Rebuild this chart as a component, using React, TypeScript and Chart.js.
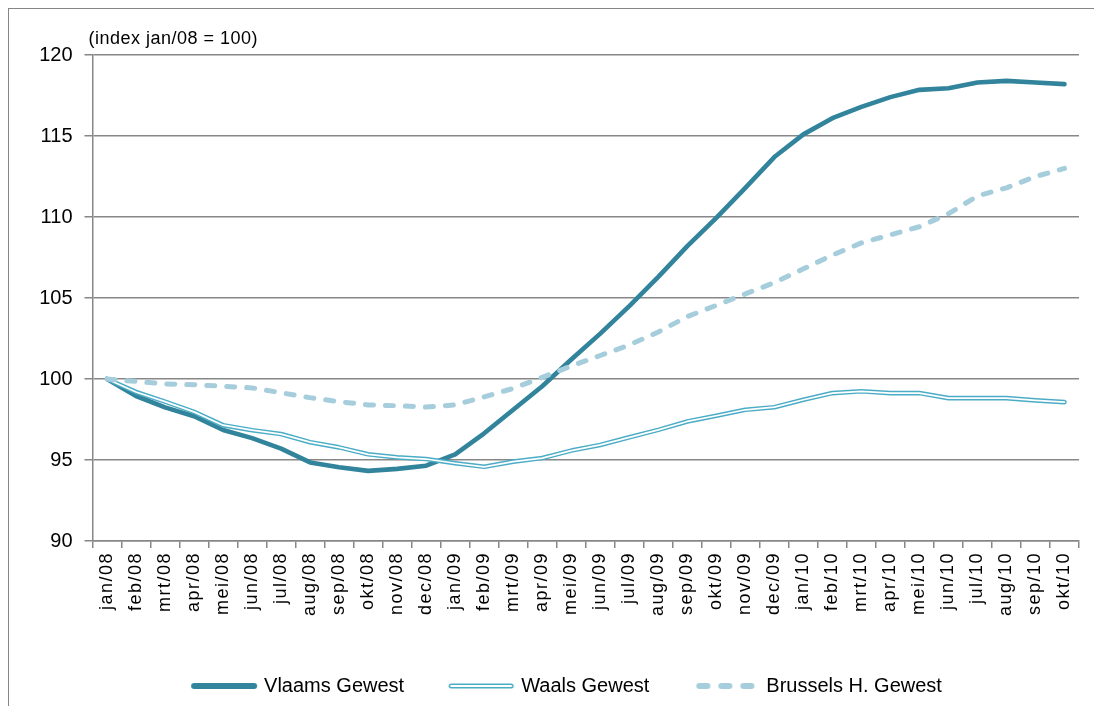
import { useEffect, useRef } from 'react';
import { Chart, registerables } from 'chart.js';

Chart.register(...registerables);

const monthLabels = [
  'jan/08', 'feb/08', 'mrt/08', 'apr/08', 'mei/08', 'jun/08', 'jul/08', 'aug/08', 'sep/08', 'okt/08', 'nov/08', 'dec/08',
  'jan/09', 'feb/09', 'mrt/09', 'apr/09', 'mei/09', 'jun/09', 'jul/09', 'aug/09', 'sep/09', 'okt/09', 'nov/09', 'dec/09',
  'jan/10', 'feb/10', 'mrt/10', 'apr/10', 'mei/10', 'jun/10', 'jul/10', 'aug/10', 'sep/10', 'okt/10',
];

const vlaamsValues = [
  100, 98.95, 98.25, 97.7, 96.85, 96.35, 95.7, 94.85, 94.55, 94.33, 94.45, 94.65,
  95.35, 96.65, 98.1, 99.55, 101.2, 102.8, 104.5, 106.3, 108.2, 109.95, 111.8, 113.7,
  115.1, 116.1, 116.8, 117.4, 117.85, 117.95, 118.3, 118.4, 118.3, 118.2,
];

const waalsValues = [
  100, 99.2, 98.6, 97.97, 97.15, 96.84, 96.6, 96.1, 95.78, 95.35, 95.16, 95.06,
  94.8, 94.58, 94.9, 95.12, 95.58, 95.93, 96.4, 96.86, 97.38, 97.73, 98.1, 98.26,
  98.72, 99.13, 99.24, 99.13, 99.13, 98.82, 98.82, 98.82, 98.68, 98.57,
];

const brusselsValues = [
  100, 99.85, 99.7, 99.65, 99.55, 99.45, 99.15, 98.85, 98.6, 98.4, 98.35, 98.27,
  98.4, 98.9, 99.42, 100.1, 100.8, 101.45, 102.1, 102.9, 103.85, 104.55, 105.25, 105.95,
  106.8, 107.65, 108.4, 108.9, 109.4, 110.2, 111.3, 111.8, 112.5, 113.0,
];

const seriesNames = ['Vlaams Gewest', 'Waals Gewest', 'Brussels H. Gewest'];
const yTicks = [90, 95, 100, 105, 110, 115, 120];
const unitNote = '(index jan/08 = 100)';

const VLAAMS = '#31849B';
const WAALS = '#4BACC6';
const BRUSSELS = '#A5CDDB';
const AXIS = '#878787';
const FONT = '"Liberation Sans", Arial, sans-serif';

function legendSwatch(kind: 'solid' | 'double' | 'dash'): HTMLCanvasElement {
  const c = document.createElement('canvas');
  c.width = 68;
  c.height = 10;
  const g = c.getContext('2d')!;
  g.lineCap = 'round';
  if (kind === 'solid') {
    g.strokeStyle = VLAAMS;
    g.lineWidth = 6;
    g.beginPath();
    g.moveTo(4, 5);
    g.lineTo(64, 5);
    g.stroke();
  } else if (kind === 'double') {
    g.strokeStyle = WAALS;
    g.lineWidth = 5;
    g.beginPath();
    g.moveTo(4, 5);
    g.lineTo(64, 5);
    g.stroke();
    g.strokeStyle = '#ffffff';
    g.lineWidth = 2;
    g.beginPath();
    g.moveTo(4, 5);
    g.lineTo(64, 5);
    g.stroke();
  } else {
    g.strokeStyle = BRUSSELS;
    g.lineWidth = 6;
    for (const s of [7, 29, 51]) {
      g.beginPath();
      g.moveTo(s, 5);
      g.lineTo(s + 8, 5);
      g.stroke();
    }
  }
  return c;
}

const notePlugin = {
  id: 'unitNote',
  afterDraw(chart: any) {
    const ctx = chart.ctx;
    ctx.save();
    ctx.font = `18px ${FONT}`;
    (ctx as any).letterSpacing = '0.5px';
    ctx.fillStyle = '#000';
    ctx.textAlign = 'left';
    ctx.textBaseline = 'middle';
    ctx.fillText(unitNote, chart.chartArea.left - 4, chart.chartArea.top - 16);
    ctx.restore();
  },
};

const spacingPlugin = {
  id: 'xLabelSpacing',
  beforeDraw(chart: any) {
    const s = chart.scales.x;
    if (s && !s.__spaced) {
      const orig = s.drawLabels.bind(s);
      s.drawLabels = (ca: any) => {
        const ctx = chart.ctx;
        ctx.save();
        (ctx as any).letterSpacing = '1.5px';
        orig(ca);
        ctx.restore();
      };
      s.__spaced = true;
    }
    const y = chart.scales.y;
    if (y) {
      y._computeLabelArea = () => undefined;
    }
  },
};

export default function App() {
  const ref = useRef<HTMLCanvasElement>(null);

  useEffect(() => {
    if (!ref.current) return;
    Chart.defaults.font.family = FONT;
    const swatches = [legendSwatch('solid'), legendSwatch('double'), legendSwatch('dash')];

    const chart = new Chart(ref.current, {
      type: 'line',
      data: {
        labels: monthLabels,
        datasets: [
          {
            label: seriesNames[2],
            data: brusselsValues,
            borderColor: BRUSSELS,
            borderWidth: 5,
            borderDash: [8, 12],
            borderCapStyle: 'round',
            borderJoinStyle: 'round',
            pointRadius: 0,
            tension: 0,
            fill: false,
          },
          {
            label: seriesNames[1] + ' (inner)',
            data: waalsValues,
            borderColor: '#ffffff',
            borderWidth: 1.7,
            borderJoinStyle: 'round',
            borderCapStyle: 'round',
            pointRadius: 0,
            tension: 0,
            fill: false,
          },
          {
            label: seriesNames[1],
            data: waalsValues,
            borderColor: WAALS,
            borderWidth: 4.6,
            borderJoinStyle: 'round',
            borderCapStyle: 'round',
            pointRadius: 0,
            tension: 0,
            fill: false,
          },
          {
            label: seriesNames[0],
            data: vlaamsValues,
            borderColor: VLAAMS,
            borderWidth: 4.6,
            borderJoinStyle: 'round',
            borderCapStyle: 'round',
            pointRadius: 0,
            tension: 0,
            fill: false,
          },
        ],
      },
      options: {
        animation: false,
        responsive: true,
        maintainAspectRatio: false,
        layout: { padding: { left: 48, right: 15, top: 46, bottom: 0 } },
        plugins: {
          tooltip: { enabled: false },
          title: { display: false },
          legend: {
            position: 'bottom',
            labels: {
              usePointStyle: true,
              pointStyleWidth: 60,
              boxHeight: 10,
              padding: 47,
              color: '#000',
              font: { size: 20, family: FONT },
              generateLabels: () =>
                seriesNames.map((name, i) => ({
                  text: name,
                  pointStyle: swatches[i] as any,
                  fillStyle: 'transparent',
                  strokeStyle: 'transparent',
                  lineWidth: 0,
                  hidden: false,
                  datasetIndex: [3, 2, 0][i],
                })),
            },
          },
        },
        scales: {
          x: {
            type: 'category',
            offset: true,
            afterFit: (scale: any) => {
              scale.height = 88;
            },
            grid: {
              display: true,
              drawOnChartArea: false,
              drawTicks: true,
              tickLength: 7,
              offset: true,
              color: AXIS,
              lineWidth: 1.5,
            },
            border: { display: true, color: AXIS, width: 1.5 },
            ticks: {
              autoSkip: false,
              minRotation: 90,
              maxRotation: 90,
              padding: 4,
              color: '#000',
              font: { size: 18, family: FONT },
            },
          },
          y: {
            min: 90,
            max: 120,
            afterFit: (scale: any) => {
              scale.width = 35.5;
            },
            afterBuildTicks: (scale: any) => {
              scale.ticks = yTicks.map((v) => ({ value: v }));
            },
            grid: {
              color: AXIS,
              lineWidth: 1.5,
              drawTicks: true,
              tickLength: 8,
            },
            border: { display: true, color: AXIS, width: 1.5 },
            ticks: {
              padding: 12,
              color: '#000',
              font: { size: 20, family: FONT },
            },
          },
        },
      },
      plugins: [notePlugin, spacingPlugin],
    } as any);

    return () => chart.destroy();
  }, []);

  return (
    <div
      style={{
        position: 'relative',
        width: 1086,
        height: 698,
        boxSizing: 'border-box',
        borderLeft: '1px solid #868686',
        borderTop: '1px solid #868686',
      }}
    >
      <canvas ref={ref} />
    </div>
  );
}
